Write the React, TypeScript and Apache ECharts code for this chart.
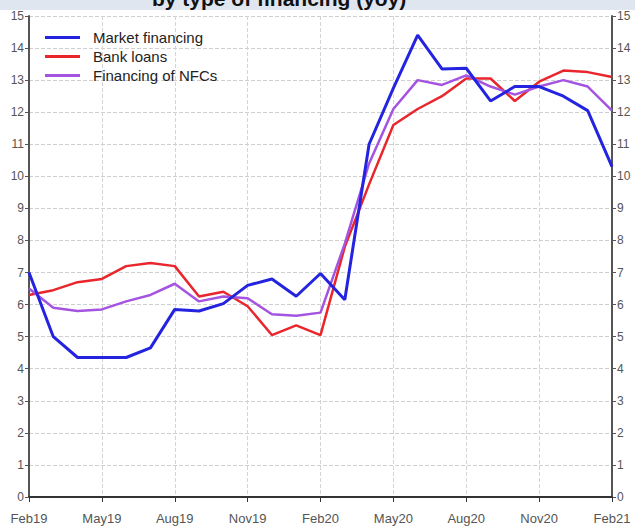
import React, { useEffect, useRef } from "react";
import * as echarts from "echarts";

const months = [
  "Feb19", "Mar19", "Apr19", "May19", "Jun19", "Jul19", "Aug19", "Sep19", "Oct19", "Nov19", "Dec19", "Jan20",
  "Feb20", "Mar20", "Apr20", "May20", "Jun20", "Jul20", "Aug20", "Sep20", "Oct20", "Nov20", "Dec20", "Jan21", "Feb21",
];

const marketFinancing = [
  7.0, 5.0, 4.35, 4.35, 4.35, 4.65, 5.85, 5.8, 6.03, 6.6, 6.8, 6.26,
  6.97, 6.15, 11.0, 12.75, 14.4, 13.35, 13.37, 12.35, 12.8, 12.8, 12.5, 12.05, 10.3,
];

const bankLoans = [
  6.3, 6.45, 6.7, 6.8, 7.2, 7.3, 7.2, 6.25, 6.4, 5.95, 5.05, 5.35,
  5.05, 7.8, 9.75, 11.6, 12.1, 12.5, 13.05, 13.05, 12.35, 12.95, 13.3, 13.25, 13.1,
];

const financingNFCs = [
  6.5, 5.9, 5.8, 5.85, 6.1, 6.3, 6.65, 6.1, 6.25, 6.2, 5.7, 5.65,
  5.75, 7.9, 10.4, 12.1, 13.0, 12.85, 13.15, 12.8, 12.55, 12.8, 13.0, 12.8, 12.05,
];

const seriesNames = ["Market financing", "Bank loans", "Financing of NFCs"];
const titleText = "by type of financing (yoy)";

export default function App() {
  const ref = useRef<HTMLDivElement>(null);

  useEffect(() => {
    if (!ref.current) return;
    const chart = echarts.init(ref.current, undefined, { renderer: "svg" });
    const font = "Liberation Sans, Arial, sans-serif";
    const yAxisBase = {
      type: "value",
      min: 0,
      max: 15,
      interval: 1,
      axisLine: { show: true, lineStyle: { color: "#555", width: 2 } },
      axisTick: { show: true, length: 4, lineStyle: { color: "#555" } },
      axisLabel: { color: "#555", fontSize: 12, fontFamily: font, margin: 5 },
    };
    chart.setOption({
      animation: false,
      backgroundColor: "#fff",
      graphic: [
        { type: "rect", shape: { x: 0, y: 0, width: 635, height: 10 }, style: { fill: "#dfe6f0" }, z: 10 },
        {
          type: "text",
          x: 152,
          y: 9,
          style: {
            text: titleText,
            font: "bold 21px Liberation Sans, Arial, sans-serif",
            fill: "#111",
            verticalAlign: "bottom",
          },
          z: 11,
        },
      ],
      grid: { left: 29, right: 23, top: 16, bottom: 31 },
      legend: {
        orient: "vertical",
        left: 40,
        top: 25,
        itemWidth: 35,
        itemHeight: 3,
        itemGap: 4,
        icon: "rect",
        data: seriesNames,
        textStyle: { fontSize: 15, color: "#222", fontFamily: font, padding: [0, 0, 0, 8] },
      },
      xAxis: {
        type: "category",
        data: months,
        boundaryGap: false,
        axisLine: { lineStyle: { color: "#333", width: 2 } },
        axisTick: { interval: 2, length: 5, lineStyle: { color: "#333" } },
        axisLabel: { interval: 2, color: "#555", fontSize: 13, fontFamily: font, margin: 15 },
        splitLine: { show: true, interval: 2, lineStyle: { type: "dashed", color: "#d4d4d4" } },
      },
      yAxis: [
        {
          ...yAxisBase,
          position: "left",
          splitLine: { show: true, lineStyle: { type: "dashed", color: "#cfcfcf" } },
        },
        {
          ...yAxisBase,
          position: "right",
          splitLine: { show: false },
        },
      ],
      series: [
        {
          name: "Bank loans",
          type: "line",
          data: bankLoans,
          symbol: "none",
          lineStyle: { color: "#e8262c", width: 2.5 },
          itemStyle: { color: "#e8262c" },
        },
        {
          name: "Financing of NFCs",
          type: "line",
          data: financingNFCs,
          symbol: "none",
          lineStyle: { color: "#a454e0", width: 2.5 },
          itemStyle: { color: "#a454e0" },
        },
        {
          name: "Market financing",
          type: "line",
          data: marketFinancing,
          symbol: "none",
          lineStyle: { color: "#2424e0", width: 3 },
          itemStyle: { color: "#2424e0" },
        },
      ],
    });
    return () => chart.dispose();
  }, []);

  return (
    <div
      ref={ref}
      style={{ position: "fixed", left: 0, top: 0, width: 635, height: 528, background: "#fff" }}
    />
  );
}
